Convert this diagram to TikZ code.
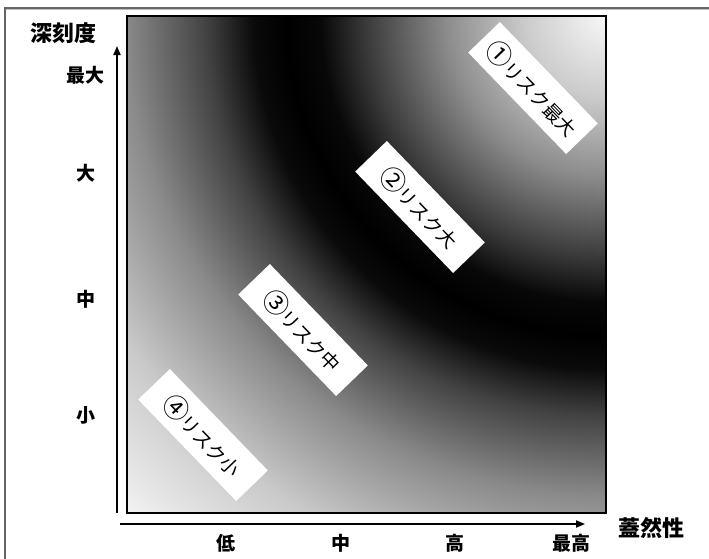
\documentclass[tikz,border=0pt]{standalone}
\usepackage{fontspec}
\newfontfamily\jp{Noto Sans CJK JP}
\usetikzlibrary{arrows.meta}

% Risk glow: light at the high-high corner, a black ring, light again far away.
% The shaded circle has radius 700 units, which corresponds to 25bp of the shading.
\pgfdeclareradialshading{riskglow}{\pgfpoint{0bp}{0bp}}{%
  color(0bp)=(black!3);
  color(2.86bp)=(black!20);
  color(5.71bp)=(black!45);
  color(8.57bp)=(black!77);
  color(10.2bp)=(black!97);
  color(11.43bp)=(black);
  color(12.6bp)=(black!96);
  color(14.29bp)=(black!74);
  color(17.14bp)=(black!46);
  color(20.71bp)=(black!21);
  color(24.64bp)=(black!5);
  color(25bp)=(black!4);
  color(50bp)=(black!4)}

\newcommand{\circd}[1]{{\fontsize{26}{19}\selectfont #1}}

\tikzset{
  axislab/.style={font=\jp\bfseries\fontsize{19}{19}\selectfont, inner sep=0pt},
  axistitle/.style={font=\jp\bfseries\fontsize{22}{22}\selectfont, inner sep=0pt},
  risklab/.style={fill=white, rotate=-46, minimum width=141pt, minimum height=44pt,
    inner sep=0pt, font=\jp\fontsize{19}{19}\selectfont},
  axisline/.style={line width=1.8pt, -{Triangle[length=9pt,width=7pt]}},
}

\begin{document}
\begin{tikzpicture}[x=1pt, y=-1pt]
  \useasboundingbox (0,0) rectangle (709,558);
  \fill[white] (0,0) rectangle (709,558);
  % outer frame
  \draw[black!60, line width=1.2pt] (5,8) rectangle (716,566);
  \draw[black!25, line width=0.8pt] (6,9.5) -- (716,9.5);

  % shaded risk field
  \begin{scope}
    \clip (127,16) rectangle (606,513);
    \shade[shading=riskglow] (606,16) circle[radius=700];
  \end{scope}
  \node[draw, line width=2pt, minimum width=479pt, minimum height=497pt, inner sep=0pt]
    (panel) at (366.5,264.5) {};

  % risk labels
  \node[risklab] (r1) at (533,88) {\circd{①}リスク最大};
  \node[risklab] (r2) at (420,207) {\circd{②}リスク大};
  \node[risklab] (r3) at (303,330) {\circd{③}リスク中};
  \node[risklab] (r4) at (203,435) {\circd{④}リスク小};

  % axes
  \coordinate (ybase) at (117,513);
  \coordinate (ytip) at (117,46);
  \coordinate (xbase) at (120,524);
  \coordinate (xtip) at (585,524);
  \draw[axisline] (ybase) -- (ytip);
  \draw[axisline] (xbase) -- (xtip);

  % axis titles
  \node[axistitle] (ytitle) at (63,33) {深刻度};
  \node[axistitle] (xtitle) at (651,528) {蓋然性};

  % severity levels
  \node[axislab] (s4) at (85,75) {最大};
  \node[axislab] (s3) at (86,173) {大};
  \node[axislab] (s2) at (86,299) {中};
  \node[axislab] (s1) at (86,415) {小};

  % likelihood levels
  \node[axislab] (p1) at (226,543) {低};
  \node[axislab] (p2) at (341,543) {中};
  \node[axislab] (p3) at (455,543) {高};
  \node[axislab] (p4) at (571,543) {最高};
\end{tikzpicture}
\end{document}
